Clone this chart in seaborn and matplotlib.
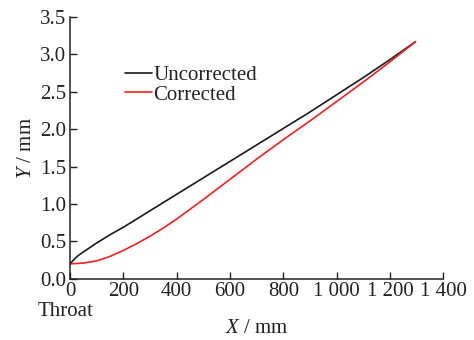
import matplotlib
matplotlib.use("Agg")
import matplotlib.pyplot as plt
import seaborn as sns
import pandas as pd

x_uncorrected = [0, 15, 30, 50, 75, 100, 150, 200, 300, 400, 500, 600, 700, 800, 900, 1000, 1100, 1200, 1296]
y_uncorrected = [0.2, 0.26, 0.31, 0.36, 0.42, 0.48, 0.59, 0.69, 0.91, 1.13, 1.35, 1.57, 1.79, 2.01, 2.23, 2.46, 2.69, 2.93, 3.17]
x_corrected = [0, 50, 100, 150, 200, 250, 300, 350, 400, 500, 600, 700, 800, 900, 1000, 1100, 1200, 1296]
y_corrected = [0.2, 0.21, 0.24, 0.30, 0.38, 0.47, 0.57, 0.68, 0.80, 1.06, 1.33, 1.60, 1.86, 2.11, 2.37, 2.63, 2.9, 3.17]
x_ticks = [0, 200, 400, 600, 800, 1000, 1200, 1400]
x_tick_labels = ["0", "200", "400", "600", "800", "1 000", "1 200", "1 400"]
y_ticks = [0.0, 0.5, 1.0, 1.5, 2.0, 2.5, 3.0, 3.5]
y_tick_labels = ["0.0", "0.5", "1.0", "1.5", "2.0", "2.5", "3.0", "3.5"]

df = pd.concat([
    pd.DataFrame({"X": x_uncorrected, "Y": y_uncorrected, "series": "Uncorrected"}),
    pd.DataFrame({"X": x_corrected, "Y": y_corrected, "series": "Corrected"}),
], ignore_index=True)

sns.set_style("ticks")
plt.rcParams["font.family"] = ["Liberation Serif", "DejaVu Serif"]
plt.rcParams["mathtext.fontset"] = "custom"
plt.rcParams["mathtext.it"] = "Liberation Serif:italic"
plt.rcParams["mathtext.rm"] = "Liberation Serif"

FS = 15
TXT = "#222222"

fig = plt.figure(figsize=(4.74, 3.4), dpi=100)
ax = fig.add_axes([0.148, 0.180, 0.787, 0.770])

sns.lineplot(data=df, x="X", y="Y", hue="series", palette={"Uncorrected": "#1a1a1a", "Corrected": "#ee2222"},
             linewidth=1.2, ax=ax, sort=False, estimator=None)

ax.set_xlim(0, 1400)
ax.set_ylim(0, 3.5)
ax.set_xticks(x_ticks)
ax.set_xticklabels(x_tick_labels)
ax.set_yticks(y_ticks)
ax.set_yticklabels(y_tick_labels)
ax.tick_params(direction="in", length=5, width=1, labelsize=FS, colors=TXT)
ax.tick_params(axis="x", pad=2)
ax.tick_params(axis="y", pad=3)
for s in ["top", "right"]:
    ax.spines[s].set_visible(False)
for s in ["left", "bottom"]:
    ax.spines[s].set_linewidth(1.1)
    ax.spines[s].set_color(TXT)

ax.set_xlabel(r"$\it{X}$ / mm", fontsize=FS, labelpad=13, color=TXT)
ax.set_ylabel(r"$\it{Y}$ / mm", fontsize=FS, labelpad=3, color=TXT)
ax.annotate("Throat", xy=(0, 0), xycoords=("data", "axes fraction"), xytext=(-3, -16.5),
            textcoords="offset points", ha="center", va="top", fontsize=FS, color=TXT)

leg = ax.legend(loc="upper left", bbox_to_anchor=(0.147, 0.815), frameon=False, fontsize=FS,
                handlelength=1.3, handletextpad=0.05, labelspacing=0.0, borderaxespad=0, borderpad=0)
for t in leg.get_texts():
    t.set_color(TXT)

fig.savefig("out.png", dpi=100)
